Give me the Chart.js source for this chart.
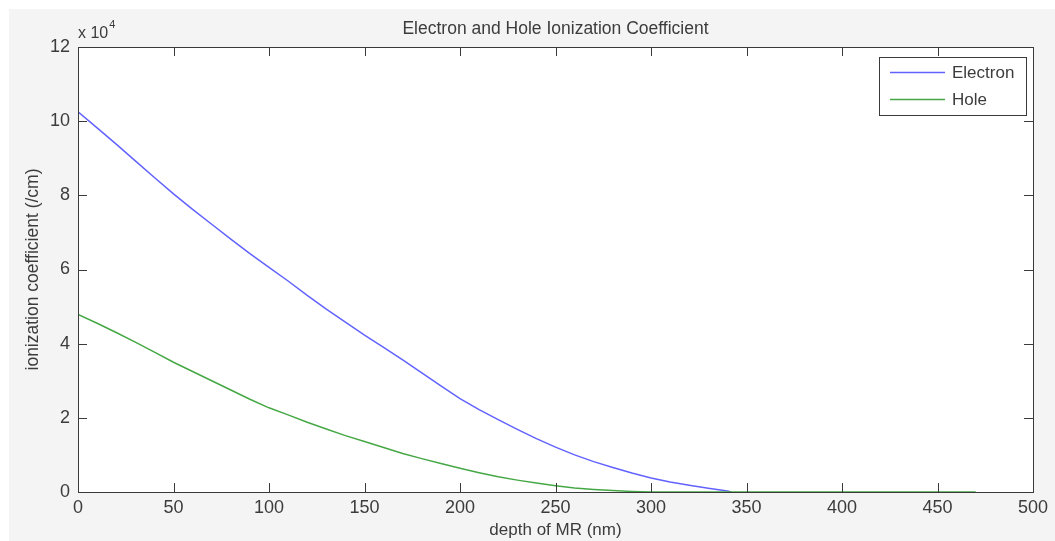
<!DOCTYPE html>
<html>
<head>
<meta charset="utf-8">
<script src="https://cdn.jsdelivr.net/npm/chart.js@4.4.1/dist/chart.umd.min.js"></script>
<style>
  html, body { margin: 0; padding: 0; background: #ffffff; }
  #chart { display: block; }
</style>
</head>
<body>
<canvas id="chart" width="1055" height="541"></canvas>
<script>
// depth of MR (nm), values in units of 1e4 /cm
const depthNm = [0, 10, 20, 30, 40, 50, 60, 70, 80, 90, 100, 110, 120, 130, 140, 150, 160, 170, 180, 190,
  200, 210, 220, 230, 240, 250, 260, 270, 280, 290, 300, 310, 320, 330, 340, 342,
  350, 360, 370, 380, 390, 400, 410, 420, 430, 440, 450, 460, 470];
const electron = [10.25, 9.82, 9.38, 8.93, 8.48, 8.04, 7.62, 7.22, 6.82, 6.43, 6.06, 5.69, 5.30, 4.93, 4.58,
  4.23, 3.90, 3.56, 3.21, 2.86, 2.52, 2.22, 1.95, 1.69, 1.44, 1.21, 1.00, 0.82, 0.66, 0.51,
  0.38, 0.27, 0.18, 0.10, 0.03, 0];
const hole = [4.79, 4.55, 4.30, 4.04, 3.77, 3.50, 3.25, 3.00, 2.75, 2.50, 2.27, 2.08, 1.88, 1.70, 1.52,
  1.36, 1.20, 1.04, 0.90, 0.77, 0.64, 0.52, 0.41, 0.32, 0.24, 0.17, 0.11, 0.07, 0.04, 0.015,
  0, 0, 0, 0, 0, 0, 0, 0, 0, 0, 0, 0, 0, 0, 0, 0, 0, 0, 0];
const xTicks = [0, 50, 100, 150, 200, 250, 300, 350, 400, 450, 500];
const yTicks = [0, 2, 4, 6, 8, 10, 12];
const chartTitle = 'Electron and Hole Ionization Coefficient';

const FONT = "'Liberation Sans', Arial, sans-serif";
const AXIS = '#3a3a3a';
const TEXT = '#3c3c3c';

const toPoints = vals => vals.map((v, i) => ({ x: depthNm[i], y: v }));

// figure background, white plot area, full box, inward ticks, title, exponent, legend
const matlabAxes = {
  id: 'matlabAxes',
  beforeDraw(chart) {
    const { ctx, chartArea: a, width, height } = chart;
    ctx.save();
    ctx.fillStyle = '#f4f4f4';
    ctx.fillRect(9, 9, width - 9, height - 9);
    ctx.fillStyle = '#ffffff';
    ctx.fillRect(a.left, a.top, a.right - a.left, a.bottom - a.top);
    ctx.restore();
  },
  afterDraw(chart) {
    const { ctx, chartArea: a, scales } = chart;
    const len = 9;
    ctx.save();
    ctx.strokeStyle = AXIS;
    ctx.lineWidth = 1;
    ctx.beginPath();
    xTicks.forEach(v => {
      const px = Math.round(scales.x.getPixelForValue(v)) + 0.5;
      ctx.moveTo(px, a.bottom); ctx.lineTo(px, a.bottom - len);
      ctx.moveTo(px, a.top); ctx.lineTo(px, a.top + len);
    });
    yTicks.forEach(v => {
      const py = Math.round(scales.y.getPixelForValue(v)) + 0.5;
      ctx.moveTo(a.left, py); ctx.lineTo(a.left + len, py);
      ctx.moveTo(a.right, py); ctx.lineTo(a.right - len, py);
    });
    ctx.stroke();
    ctx.strokeRect(Math.round(a.left) + 0.5, Math.round(a.top) + 0.5,
      Math.round(a.right - a.left), Math.round(a.bottom - a.top));

    // title, centred over the axes
    ctx.fillStyle = TEXT;
    ctx.font = '17.5px ' + FONT;
    ctx.textAlign = 'center';
    ctx.textBaseline = 'alphabetic';
    ctx.fillText(chartTitle, (a.left + a.right) / 2, a.top - 13);

    // x 10^4 exponent label
    ctx.textAlign = 'left';
    ctx.font = '16px ' + FONT;
    ctx.fillText('x 10', a.left, a.top - 9);
    const w = ctx.measureText('x 10').width;
    ctx.font = '11px ' + FONT;
    ctx.fillText('4', a.left + 1 + w, a.top - 19);

    // legend box
    const bx = a.right - 154, by = a.top + 10, bw = 147, bh = 58;
    ctx.fillStyle = '#ffffff';
    ctx.fillRect(bx, by, bw, bh);
    ctx.strokeStyle = AXIS;
    ctx.strokeRect(bx + 0.5, by + 0.5, bw, bh);
    chart.data.datasets.forEach((ds, i) => {
      const y = by + 15.5 + i * 27;
      ctx.strokeStyle = ds.borderColor;
      ctx.lineWidth = 1.5;
      ctx.beginPath();
      ctx.moveTo(bx + 11, y); ctx.lineTo(bx + 66, y);
      ctx.stroke();
      ctx.fillStyle = TEXT;
      ctx.font = '17px ' + FONT;
      ctx.textBaseline = 'middle';
      ctx.fillText(ds.label, bx + 73, y + 1);
    });
    ctx.restore();
  }
};

new Chart(document.getElementById('chart'), {
  type: 'line',
  plugins: [matlabAxes],
  data: {
    datasets: [
      {
        label: 'Electron',
        data: toPoints(electron),
        borderColor: '#6262ff',
        borderWidth: 1.5,
        pointRadius: 0,
        tension: 0,
        order: 2
      },
      {
        label: 'Hole',
        data: toPoints(hole),
        borderColor: '#45a845',
        borderWidth: 1.5,
        pointRadius: 0,
        tension: 0,
        order: 1
      }
    ]
  },
  options: {
    responsive: false,
    animation: false,
    layout: { padding: { left: 0, right: 22, top: 47, bottom: 0 } },
    scales: {
      x: {
        type: 'linear',
        min: 0,
        max: 500,
        afterBuildTicks: s => { s.ticks = xTicks.map(v => ({ value: v })); },
        afterFit: s => { s.height = 49; },
        grid: { display: false, drawTicks: false },
        border: { color: AXIS, width: 1 },
        ticks: { autoSkip: false, padding: 5, color: TEXT, font: { family: FONT, size: 18 }, maxRotation: 0 },
        title: { display: true, text: 'depth of MR (nm)', color: TEXT, font: { family: FONT, size: 17 }, padding: { top: 0, bottom: 0 } }
      },
      y: {
        min: 0,
        max: 12,
        afterBuildTicks: s => { s.ticks = yTicks.map(v => ({ value: v })); },
        afterFit: s => { s.width = 78; },
        grid: { display: false, drawTicks: false },
        border: { color: AXIS, width: 1 },
        ticks: { autoSkip: false, padding: 8, color: TEXT, font: { family: FONT, size: 18 } },
        title: { display: true, text: 'ionization coefficient (/cm)', color: TEXT, font: { family: FONT, size: 17.5 }, padding: { top: 23, bottom: 0 } }
      }
    },
    plugins: {
      legend: { display: false },
      tooltip: { enabled: false },
      title: { display: false }
    }
  }
});
</script>
</body>
</html>
